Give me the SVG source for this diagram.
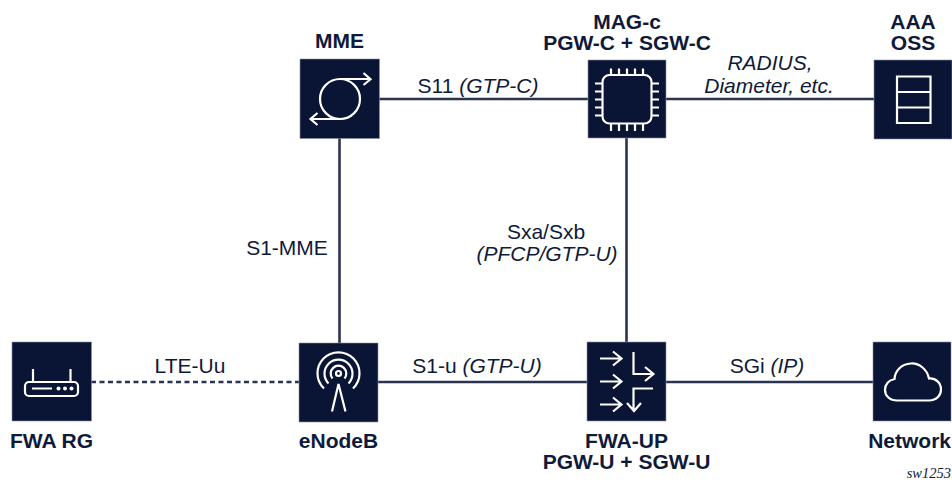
<svg xmlns="http://www.w3.org/2000/svg" width="952" height="484" viewBox="0 0 952 484">
<style>
.box{fill:#0a1435;stroke:#8a90a3;stroke-width:.6}
.ic{fill:none;stroke:#fff;stroke-width:2.2;stroke-linecap:butt}
.ln{fill:none;stroke:#2a3350;stroke-width:2.6}
text{font-family:"Liberation Sans",Arial,sans-serif;font-size:21px;fill:#0f1a3a}
.b{font-weight:700}
.m{text-anchor:middle}
.i{font-style:italic}
</style>
<rect width="952" height="484" fill="#fff"/>
<g id="connectors">
<path class="ln" d="M379 99H588"/>
<path class="ln" d="M666 99H874"/>
<path class="ln" d="M339.500 138V343"/>
<path class="ln" d="M626.500 138V342"/>
<path class="ln" d="M378 382H587"/>
<path class="ln" d="M666 382H873"/>
<path class="ln" stroke-dasharray="5 3.500" d="M91 382H299"/>
</g>
<g id="mme">
<rect class="box" x="300" y="59" width="79.500" height="79.500"/>
<circle class="ic" cx="340" cy="99" r="20"/>
<path class="ic" d="M340 79H370M363.500 73L370.500 79.300L363.500 85M340 119H311M317.500 113L310.500 119L317.500 125"/>
<text class="b m" x="339.500" y="47.500">MME</text>
</g>
<g id="mag-c">
<rect class="box" x="588" y="60" width="78" height="78"/>
<rect class="ic" x="602.500" y="75" width="49" height="48.500" rx="7"/>
<path class="ic" d="M611 68.500V75M619 68.500V75M627 68.500V75M635 68.500V75M643 68.500V75M611 123.500V131M619 123.500V131M627 123.500V131M635 123.500V131M643 123.500V131M595 83.500H602.500M595 91.500H602.500M595 99.500H602.500M595 107.500H602.500M595 115.500H602.500M651.500 83.500H659M651.500 91.500H659M651.500 99.500H659M651.500 107.500H659M651.500 115.500H659"/>
<text class="b m" x="627" y="29">MAG-c</text>
<text class="b m" x="627" y="50">PGW-C + SGW-C</text>
</g>
<g id="aaa-oss">
<rect class="box" x="874" y="60" width="78" height="79"/>
<path class="ic" d="M897 76.500H930.500V123H897ZM897 92H930.500M897 107.500H930.500"/>
<text class="b m" x="913" y="29">AAA</text>
<text class="b m" x="913" y="50">OSS</text>
</g>
<g id="fwa-rg">
<rect class="box" x="12" y="342" width="79.500" height="79"/>
<rect class="ic" x="25" y="382" width="53" height="14" rx="4"/>
<path class="ic" d="M33 382V369M70.500 382V369M32 388.500H52"/>
<circle cx="58.500" cy="388.500" r="2" fill="#fff"/>
<circle cx="65" cy="388.500" r="2" fill="#fff"/>
<circle cx="71.500" cy="388.500" r="2" fill="#fff"/>
<text class="b m" x="51.500" y="448">FWA RG</text>
</g>
<g id="enodeb">
<rect class="box" x="299" y="343" width="79" height="79"/>
<circle class="ic" cx="338.500" cy="373.500" r="2.500"/>
<path class="ic" d="M332.500 378.500A7.800 7.800 0 1 1 344.500 378.500M328.500 383.500A14 14 0 1 1 348.500 383.500M324 388.500A21 21 0 1 1 353 388.500"/>
<path class="ic" d="M332 411.500L338.500 384L345.500 411.500"/>
<text class="b m" x="338.500" y="448">eNodeB</text>
</g>
<g id="fwa-up">
<rect class="box" x="587" y="342" width="79" height="79"/>
<path class="ic" d="M600 358.500H621M613 351.500L621.500 358.500L613 365.500M600 381.500H621M613 374.500L621.500 381.500L613 388.500M600 404.500H621M613 397.500L621.500 404.500L613 411.500M633.500 352V374H652M645 367L653.500 374L645 381M653 388.500H633.500V410M627 403L634 411L641 403"/>
<text class="b m" x="626.500" y="447.500">FWA-UP</text>
<text class="b m" x="626.500" y="468.500">PGW-U + SGW-U</text>
</g>
<g id="network">
<rect class="box" x="873" y="342" width="78" height="79"/>
<path class="ic" d="M897 400.500H929C937 400.500 941 395 941 389.500C941 383 936 378 929 378.500C927 369 919 363 911 363.500C901 364 895 371 894.500 379C888 380.500 885 385 885 390C885 396 890 400.500 897 400.500Z"/>
<text class="b" x="951" y="448" text-anchor="end">Network</text>
</g>
<g id="labels">
<text class="m" x="478" y="93">S11 <tspan class="i">(GTP-C)</tspan></text>
<text class="m i" x="770" y="70">RADIUS,</text>
<text class="m i" x="769" y="93">Diameter, etc.</text>
<text class="m" x="287" y="255">S1-MME</text>
<text class="m" x="546" y="239">Sxa/Sxb</text>
<text class="m i" x="547" y="261">(PFCP/GTP-U)</text>
<text class="m" x="190" y="373">LTE-Uu</text>
<text class="m" x="477" y="373">S1-u <tspan class="i">(GTP-U)</tspan></text>
<text class="m" x="767" y="373">SGi <tspan class="i">(IP)</tspan></text>
<text x="951" y="478" text-anchor="end" style="font-family:'Liberation Serif',serif;font-size:14.500px;font-style:italic">sw1253</text>
</g>
</svg>
